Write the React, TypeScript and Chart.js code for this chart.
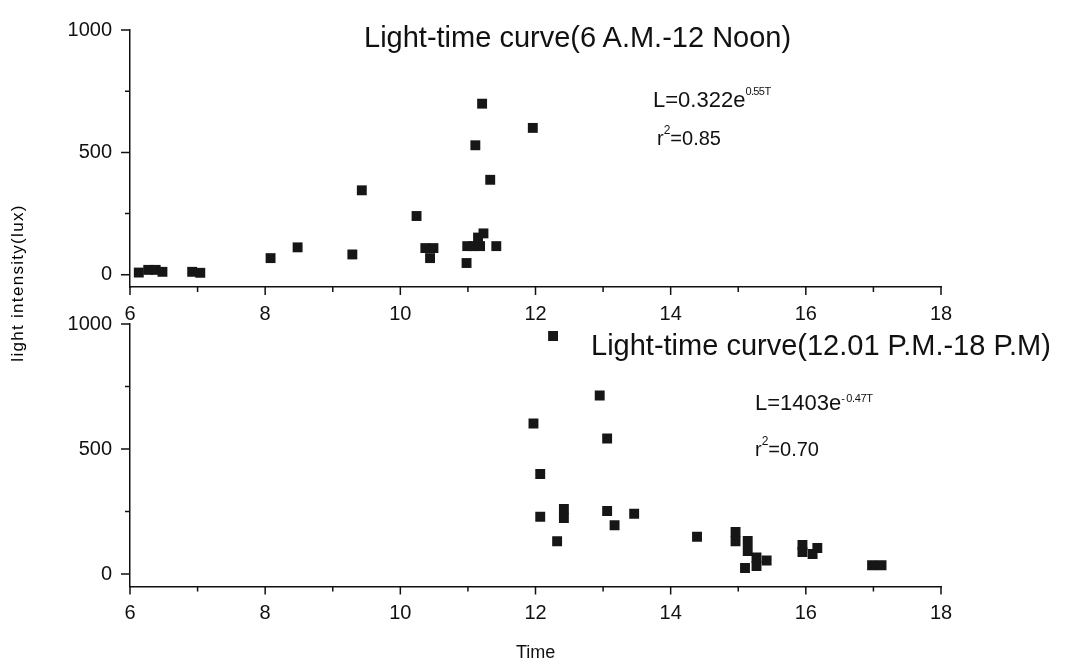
import React, { useEffect, useRef } from "react";
import { Chart, registerables } from "chart.js";

Chart.register(...registerables);

// ---- data ----
const morningTime = [6.13, 6.27, 6.38, 6.48, 6.92, 7.04, 8.08, 8.48, 9.29, 9.43, 10.24, 10.37, 10.49, 10.44, 10.99, 11.08, 11.18, 11.15, 11.23, 11.42, 10.98, 11.21, 11.11, 11.33, 11.96];
const morningLux = [9, 20, 20, 12, 12, 8, 68, 112, 83, 345, 240, 109, 109, 68, 117, 117, 117, 152, 169, 117, 48, 699, 529, 388, 600];

const afternoonTime = [12.26, 11.97, 12.95, 13.06, 12.07, 12.42, 12.42, 12.07, 13.06, 13.46, 13.17, 12.32, 14.39, 14.96, 14.96, 15.14, 15.14, 15.1, 15.27, 15.27, 15.42, 15.95, 15.95, 16.1, 16.17, 16.98, 17.12];
const afternoonLux = [952, 602, 714, 542, 400, 260, 224, 229, 252, 241, 195, 131, 149, 168, 131, 132, 92, 24, 66, 32, 54, 116, 88, 80, 104, 35, 35];

const xTickValues = [6, 7, 8, 9, 10, 11, 12, 13, 14, 15, 16, 17, 18];
const xLabelValues = [6, 8, 10, 12, 14, 16, 18];
const yTickValues = [0, 250, 500, 750, 1000];
const yLabelValues = [0, 500, 1000];

const topTitle = "Light-time curve(6 A.M.-12 Noon)";
const bottomTitle = "Light-time curve(12.01 P.M.-18 P.M)";
const yTitle = "light intensity(lux)";
const xTitle = "Time";

const W = 1071;
const H = 663;
const FONT = "'Liberation Sans', Arial, sans-serif";
const INK = "#111";

const tickMarks = {
  id: "tickMarks",
  afterDraw(chart: any) {
    const { ctx, chartArea, scales } = chart;
    const x = scales.x;
    const y = scales.y;
    ctx.save();
    ctx.strokeStyle = INK;
    ctx.lineWidth = 1.5;
    ctx.beginPath();
    xTickValues.forEach((v) => {
      const px = x.getPixelForValue(v);
      const len = xLabelValues.includes(v) ? 8 : 5;
      ctx.moveTo(px, chartArea.bottom);
      ctx.lineTo(px, chartArea.bottom + len);
    });
    yTickValues.forEach((v) => {
      const py = y.getPixelForValue(v);
      const len = yLabelValues.includes(v) ? 9 : 5;
      ctx.moveTo(chartArea.left, py);
      ctx.lineTo(chartArea.left - len, py);
    });
    ctx.stroke();
    ctx.restore();
  },
};

function buildChart(canvas: HTMLCanvasElement, time: number[], lux: number[], area: { top: number; bottom: number; right: number }) {
  return new Chart(canvas, {
    type: "scatter",
    data: {
      datasets: [
        {
          data: time.map((t, i) => ({ x: t, y: lux[i] })),
          pointStyle: "rect",
          pointRadius: 7,
          pointHoverRadius: 7,
          backgroundColor: "#161616",
          borderWidth: 0,
          showLine: false,
        },
      ],
    },
    options: {
      responsive: false,
      animation: false,
      devicePixelRatio: 1,
      events: [],
      layout: {
        padding: { left: 0, right: W - area.right, top: area.top, bottom: H - area.bottom - 40 },
      },
      plugins: {
        legend: { display: false },
        tooltip: { enabled: false },
        title: { display: false },
      },
      scales: {
        x: {
          type: "linear",
          min: 6,
          max: 18,
          afterBuildTicks: (s: any) => {
            s.ticks = xTickValues.map((value) => ({ value }));
          },
          afterFit: (s: any) => {
            s.height = 40;
          },
          ticks: {
            autoSkip: false,
            maxRotation: 0,
            padding: 15,
            color: INK,
            font: { family: FONT, size: 20 },
            callback: (v: any) => (xLabelValues.includes(Number(v)) ? String(v) : ""),
          },
          grid: { display: false, drawTicks: false, tickLength: 0 },
          border: { display: true, color: INK, width: 1.5 },
        },
        y: {
          type: "linear",
          min: -50,
          max: 1000,
          afterBuildTicks: (s: any) => {
            s.ticks = yTickValues.map((value) => ({ value }));
          },
          afterFit: (s: any) => {
            s.width = 130;
          },
          ticks: {
            autoSkip: false,
            padding: 18,
            color: INK,
            font: { family: FONT, size: 20 },
            callback: (v: any) => (yLabelValues.includes(Number(v)) ? String(v) : ""),
          },
          grid: { display: false, drawTicks: false, tickLength: 0 },
          border: { display: true, color: INK, width: 1.5 },
        },
      },
    },
    plugins: [tickMarks],
  } as any);
}

const abs = (left: number, top: number, size: number, extra: React.CSSProperties = {}): React.CSSProperties => ({
  position: "absolute",
  left,
  top,
  fontSize: size,
  lineHeight: `${size}px`,
  fontFamily: FONT,
  color: INK,
  whiteSpace: "nowrap",
  ...extra,
});

const sup = (shift: number, size: number, extra: React.CSSProperties = {}): React.CSSProperties => ({
  position: "relative",
  top: shift,
  fontSize: size,
  ...extra,
});

export default function App() {
  const topRef = useRef<HTMLCanvasElement>(null);
  const bottomRef = useRef<HTMLCanvasElement>(null);

  useEffect(() => {
    const charts: Chart[] = [];
    if (bottomRef.current) charts.push(buildChart(bottomRef.current, afternoonTime, afternoonLux, { top: 324, bottom: 586.5, right: 941 }));
    if (topRef.current) charts.push(buildChart(topRef.current, morningTime, morningLux, { top: 24, bottom: 287, right: 941 }));
    return () => charts.forEach((c) => c.destroy());
  }, []);

  return (
    <div style={{ position: "fixed", left: 0, top: 0, width: W, height: H, background: "#fff", overflow: "hidden" }}>
      <canvas ref={bottomRef} width={W} height={H} style={{ position: "absolute", left: 0, top: 0 }} />
      <canvas ref={topRef} width={W} height={H} style={{ position: "absolute", left: 0, top: 0 }} />

      <div style={abs(364, 22.5, 29)}>{topTitle}</div>
      <div style={abs(591, 330.5, 29)}>{bottomTitle}</div>

      <div style={abs(653, 88.7, 22)}>
        L=0.322e<span style={sup(-12, 11, { letterSpacing: -0.6 })}>0.55T</span>
      </div>
      <div style={abs(657, 128.4, 20)}>
        r<span style={sup(-11, 12)}>2</span>=0.85
      </div>

      <div style={abs(755, 391.7, 22)}>
        L=1403e<span style={sup(-8, 11, { letterSpacing: -0.4 })}>-{"\u2009"}0.47T</span>
      </div>
      <div style={abs(755, 439.4, 20)}>
        r<span style={sup(-11, 12)}>2</span>=0.70
      </div>

      <div
        style={{
          position: "absolute",
          left: 0,
          top: 0,
          width: 160,
          height: 18,
          fontSize: 17,
          lineHeight: "18px",
          fontFamily: FONT,
          color: "#000",
          whiteSpace: "nowrap",
          letterSpacing: 1.3,
          textAlign: "center",
          transformOrigin: "0 0",
          transform: "translate(9px, 363px) rotate(-90deg)",
        }}
      >
        {yTitle}
      </div>
      <div style={abs(516, 643, 18)}>{xTitle}</div>
    </div>
  );
}
